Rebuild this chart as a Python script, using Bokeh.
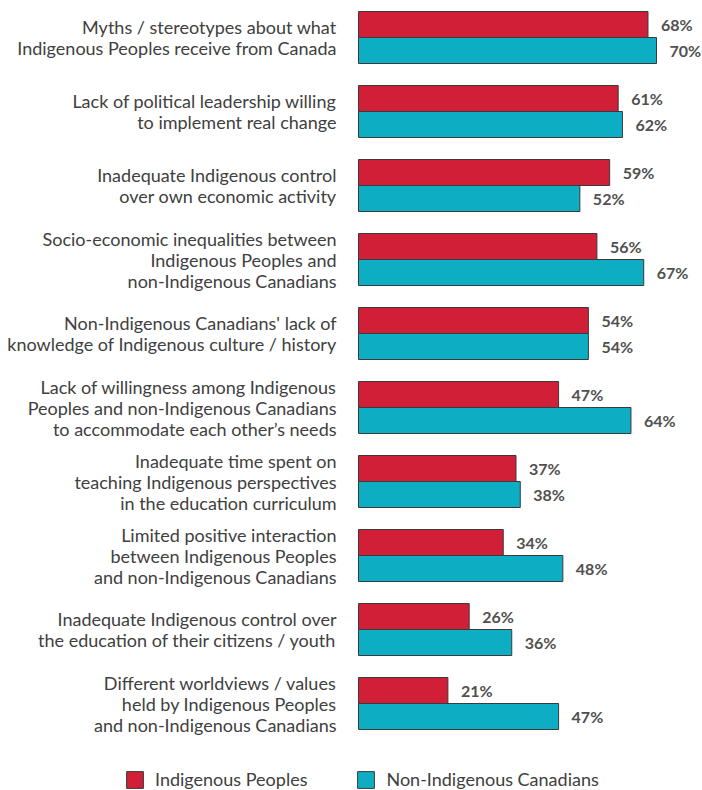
from bokeh.plotting import figure
from bokeh.models import ColumnDataSource, Range1d, Legend, LegendItem
from bokeh.core.properties import value
from bokeh.embed import file_html
from bokeh.resources import INLINE

categories = [
    ["Myths / stereotypes about what", "Indigenous Peoples receive from Canada"],
    ["Lack of political leadership willing", "to implement real change"],
    ["Inadequate Indigenous control", "over own economic activity"],
    ["Socio-economic inequalities between", "Indigenous Peoples and", "non-Indigenous Canadians"],
    ["Non-Indigenous Canadians' lack of", "knowledge of Indigenous culture / history"],
    ["Lack of willingness among Indigenous", "Peoples and non-Indigenous Canadians", "to accommodate each other\u2019s needs"],
    ["Inadequate time spent on", "teaching Indigenous perspectives", "in the education curriculum"],
    ["Limited positive interaction", "between Indigenous Peoples", "and non-Indigenous Canadians"],
    ["Inadequate Indigenous control over", "the education of their citizens / youth"],
    ["Different worldviews / values", "held by Indigenous Peoples", "and non-Indigenous Canadians"],
]
indigenous = [68, 61, 59, 56, 54, 47, 37, 34, 26, 21]
non_indigenous = [70, 62, 52, 67, 54, 64, 38, 48, 36, 47]
series_names = ["Indigenous Peoples", "Non-Indigenous Canadians"]

RED = "#D01F36"
TEAL = "#0DADC4"
OUTLINE = "#3a3a3a"
FONT = "Lato"

W, H = 702, 790
px_per_pct = 298 / 70.0
x0 = -358 / px_per_pct
x1 = x0 + W / px_per_pct
group_px = 74.0
y_top = -37 / group_px
y_bot = y_top + H / group_px
half = 13.0 / group_px

p = figure(width=W, height=H, output_backend="svg", toolbar_location=None,
           x_range=Range1d(x0, x1), y_range=Range1d(y_bot, y_top),
           min_border=0, outline_line_color=None)
p.axis.visible = False
p.xgrid.visible = False
p.ygrid.visible = False
p.background_fill_color = "white"
p.border_fill_color = "white"

idx = list(range(len(categories)))
src_r = ColumnDataSource(dict(y=[i - half for i in idx], v=indigenous,
                              lab=[f"{v}%" for v in indigenous]))
src_t = ColumnDataSource(dict(y=[i + half for i in idx], v=non_indigenous,
                              lab=[f"{v}%" for v in non_indigenous]))

r_red = p.hbar(y="y", left=0, right="v", height=2 * half, source=src_r,
               fill_color=RED, line_color=OUTLINE, line_width=1)
r_teal = p.hbar(y="y", left=0, right="v", height=2 * half, source=src_t,
                fill_color=TEAL, line_color=OUTLINE, line_width=1)

for src in (src_r, src_t):
    p.text(x="v", y="y", text="lab", source=src, x_offset=13,
           text_font=value(FONT), text_font_style="bold", text_font_size="16px",
           text_color="#505050", text_align="left", text_baseline="middle")

# category labels, one text per line
ly, lt, loff = [], [], []
LH = 21
for i, lines in enumerate(categories):
    n = len(lines)
    for j, line in enumerate(lines):
        ly.append(i)
        lt.append(line)
        loff.append((j - (n - 1) / 2.0) * LH)
src_l = ColumnDataSource(dict(x=[0] * len(ly), y=ly, t=lt, off=loff))
p.text(x="x", y="y", text="t", source=src_l, x_offset=-22, y_offset="off",
       text_font=value(FONT), text_font_size="18px", text_color="#404040",
       text_align="right", text_baseline="middle")

legend = Legend(items=[LegendItem(label=series_names[0], renderers=[r_red]),
                       LegendItem(label=series_names[1], renderers=[r_teal])],
                orientation="horizontal", location=(124, 0),
                glyph_width=21, glyph_height=21, label_standoff=10, spacing=48,
                padding=0, margin=0, border_line_color=None,
                background_fill_alpha=0,
                label_text_font=FONT, label_text_font_size="18px",
                label_text_color="#404040")
p.add_layout(legend, "center")

open("out.html", "w").write(file_html(p, INLINE))
